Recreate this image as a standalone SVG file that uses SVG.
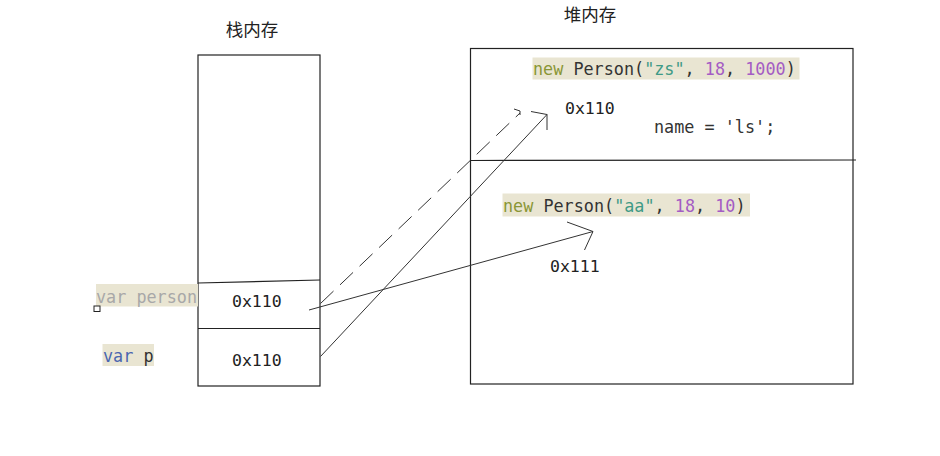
<svg xmlns="http://www.w3.org/2000/svg" width="940" height="456" viewBox="0 0 940 456">
<style>
.box{fill:none;stroke:#222;stroke-width:1.2}
.ln{fill:none;stroke:#333;stroke-width:1}
.title{font-family:"Noto Sans CJK SC","Liberation Sans",sans-serif;font-size:17.5px;fill:#222}
.mono{font-family:"DejaVu Sans Mono","Liberation Mono",monospace;font-size:16.8px;fill:#333}
.addr{font-family:"DejaVu Sans Mono","Liberation Mono",monospace;font-size:16.5px;fill:#222}
.hl{fill:#e9e5d2}
.kw{fill:#8a9636}
.str{fill:#3f9a86}
.num{fill:#a45cc4}
.gray{fill:#a8a8a8}
.blue{fill:#4a66b0}
</style>
<rect width="940" height="456" fill="#fff"/>
<g id="stack">
<text class="title" x="252" y="36" text-anchor="middle">栈内存</text>
<rect class="box" x="198" y="55" width="122" height="331"/>
<line class="box" x1="198" y1="283" x2="320" y2="280"/>
<line class="box" x1="198" y1="328.5" x2="320" y2="328.5"/>
</g>
<g id="var-person">
<rect class="hl" x="96" y="284" width="102" height="22.5"/>
<text class="mono gray" x="96" y="303">var person</text>
<rect x="94" y="306" width="6" height="5.5" fill="#fff" stroke="#222" stroke-width="1"/>
<text class="addr" x="232" y="307">0x110</text>
</g>
<g id="var-p">
<rect class="hl" x="102.5" y="344" width="51.5" height="22"/>
<text class="mono" x="103" y="362"><tspan class="blue">var</tspan> p</text>
<text class="addr" x="232" y="366">0x110</text>
</g>
<g id="heap">
<text class="title" x="590" y="21" text-anchor="middle">堆内存</text>
<rect class="box" x="470.5" y="48.5" width="382.5" height="335.5"/>
<line class="box" x1="470" y1="160.5" x2="856" y2="160"/>
</g>
<g id="person-zs">
<rect class="hl" x="532.5" y="57.5" width="267" height="22"/>
<text class="mono" x="533" y="75"><tspan class="kw">new</tspan> Person(<tspan class="str">"zs"</tspan>, <tspan class="num">18</tspan>, <tspan class="num">1000</tspan>)</text>
<text class="addr" x="565" y="114">0x110</text>
<text class="mono" x="654" y="133">name = 'ls';</text>
</g>
<g id="person-aa">
<rect class="hl" x="502.5" y="193.5" width="247.5" height="23"/>
<text class="mono" x="503" y="212"><tspan class="kw">new</tspan> Person(<tspan class="str">"aa"</tspan>, <tspan class="num">18</tspan>, <tspan class="num">10</tspan>)</text>
<text class="addr" x="550" y="272">0x111</text>
</g>
<g id="connectors">
<polyline class="ln" points="309,310 593,231.5"/>
<polyline class="ln" points="567,222 593,231.5 584.5,250"/>
<polyline class="ln" points="320.5,356.5 547,114.5"/>
<polyline class="ln" points="531,111.5 547,114.5 547,130"/>
<polyline class="ln" points="320.5,303.5 520,113" stroke-dasharray="18,9"/>
<polyline class="ln" points="514,109 520,111 520,115"/>
</g>
</svg>
